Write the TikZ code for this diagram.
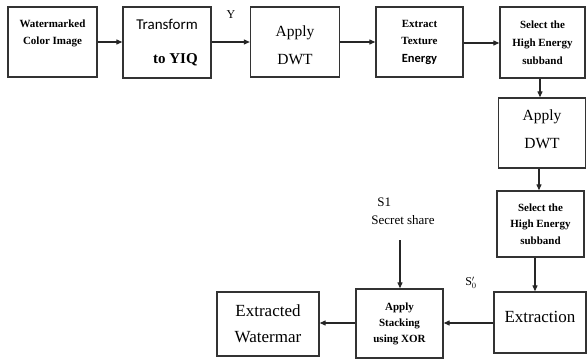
\documentclass[tikz,border=0pt]{standalone}
\usepackage{fontspec}
\setmainfont{Liberation Serif}
\newfontfamily\calfont{Carlito}
\usetikzlibrary{arrows.meta}

\begin{document}
\begin{tikzpicture}[x=1pt,y=-1pt,>={Triangle[length=6pt,width=5pt]},
  blk/.style={draw=black!80,line width=1.3pt,inner sep=1pt,align=center,
    minimum width=#1},
  blk/.default=87pt,
  small/.style={font=\fontsize{11}{16.5}\selectfont\bfseries},
  dwt/.style={font=\fontsize{15.5}{28}\selectfont},
  big/.style={font=\fontsize{17}{26}\selectfont},
  lab/.style={font=\fontsize{12}{18}\selectfont},
  conn/.style={->,line width=1.1pt,draw=black!85}]

\useasboundingbox (0,0) rectangle (587,361);

% ----- top row -----
\node[blk=89pt,minimum height=70pt,small,text depth=20pt] (wci) at (52.5,42)
  {Watermarked\\Color Image};
\node[blk=88pt,minimum height=71pt,align=right,text height=45pt] (yiq) at (167,42.5)
  {{\calfont\fontsize{15}{17}\selectfont Transform}\\[22pt]
   {\bfseries\fontsize{15}{17}\selectfont to YIQ}};
\node[blk=89pt,minimum height=70pt,dwt,text height=46pt] (dwta) at (295,42) {Apply\\DWT};
\node[blk=87pt,minimum height=70pt,font=\fontsize{11}{17.5}\selectfont] (tex) at (419.5,42)
  {{\bfseries Extract}\\{\bfseries Texture}\\
   {\calfont\bfseries\fontsize{12.5}{14}\selectfont Energy}};
\node[blk=85pt,minimum height=71pt,small,font=\fontsize{11}{18}\selectfont\bfseries] (hea) at (542.5,42.5)
  {Select the\\High Energy\\subband};

% ----- right column -----
\node[blk=87pt,minimum height=70pt,dwt,text depth=8pt] (dwtb) at (542,133) {Apply\\DWT};
\node[blk=87pt,minimum height=66pt,small] (heb) at (540.5,224)
  {Select the\\High Energy\\subband};
\node[blk=92pt,minimum height=61pt,big,text depth=12pt] (ext) at (540,322.5) {Extraction};

% ----- bottom row -----
\node[blk=87pt,minimum height=69pt,small,font=\fontsize{11}{16}\selectfont\bfseries] (xor) at (399.5,323.5)
  {Apply\\Stacking\\using XOR};
\node[blk=102pt,minimum height=64pt,big] (wm) at (268,324)
  {Extracted\\Watermar};

% labels
\node[lab] (ylab) at (231,15) {Y};
\node[lab] (s0) at (471,283) {S$'_{0}$};
\node[lab,font=\fontsize{13}{18}\selectfont,align=left] (share) at (403,211) {\hspace*{6pt}S1\\Secret share};
\coordinate (sh) at (400,240);

% ----- arrows -----
\draw[conn] (wci.east |- 0,42) -- (yiq.west |- 0,42);
\draw[conn] (yiq.east |- 0,42) -- (dwta.west |- 0,42);
\draw[conn] (dwta.east |- 0,42) -- (tex.west |- 0,42);
\draw[conn] (tex.east |- 0,43) -- (hea.west |- 0,43);
\draw[conn] (hea.south -| 540,0) -- (dwtb.north -| 540,0);
\draw[conn] (dwtb.south -| 539,0) -- (heb.north -| 539,0);
\draw[conn] (heb.south -| 535,0) -- (ext.north -| 535,0);
\draw[conn] (ext.west |- 0,323) -- (xor.east |- 0,323);
\draw[conn] (xor.west |- 0,323) -- (wm.east |- 0,323);
\draw[conn] (sh) -- (xor.north -| sh);

\end{tikzpicture}
\end{document}
